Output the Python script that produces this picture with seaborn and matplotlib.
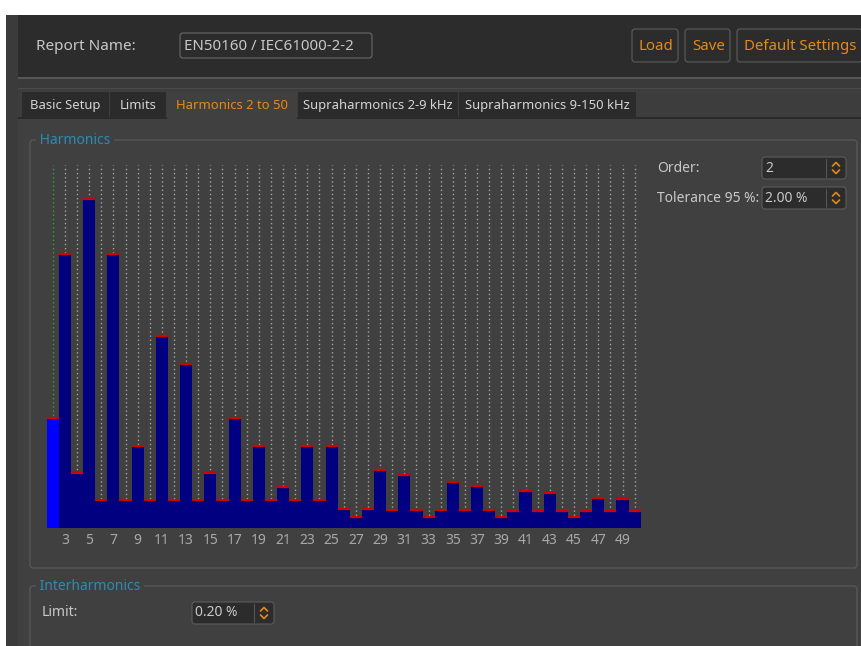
import matplotlib
matplotlib.use('Agg')
import matplotlib.pyplot as plt
from matplotlib.patches import Rectangle, FancyBboxPatch
import seaborn as sns
import pandas as pd

# harmonic orders 2..50 and their limits in % (EN50160 / IEC61000-2-2)
orders = list(range(2, 51))
limits = [2.0, 5.0, 1.0, 6.0, 0.5, 5.0, 0.5, 1.5, 0.5, 3.5,
          0.5, 3.0, 0.5, 1.0, 0.5, 2.0, 0.5, 1.5, 0.5, 0.75,
          0.5, 1.5, 0.5, 1.5, 0.35, 0.2, 0.34, 1.06, 0.33, 0.97,
          0.33, 0.2, 0.32, 0.83, 0.32, 0.77, 0.32, 0.2, 0.31, 0.67,
          0.31, 0.63, 0.31, 0.2, 0.30, 0.55, 0.30, 0.52, 0.30]
tick_orders = list(range(3, 51, 2))
selected_order = 2

df = pd.DataFrame({'order': orders, 'limit': limits})

sns.set_theme(style='dark')
plt.rcParams['font.family'] = ['Noto Sans', 'DejaVu Sans']

fig = plt.figure(figsize=(8.62, 6.46), dpi=100)
fig.patch.set_facecolor('white')

# ---- window chrome, drawn in pixel coordinates ----
bg = fig.add_axes([0, 0, 1, 1])
bg.set_xlim(0, 862)
bg.set_ylim(646, 0)
bg.axis('off')
bg.set_zorder(0)


def rect(x, y, w, h, fc, ec='none', lw=0, rounded=False):
    if rounded:
        p = FancyBboxPatch((x, y), w, h, boxstyle='round,pad=0,rounding_size=3',
                           fc=fc, ec=ec, lw=lw)
    else:
        p = Rectangle((x, y), w, h, fc=fc, ec=ec, lw=lw)
    bg.add_patch(p)


TXT = '#c8c8c8'
ORANGE = '#e58a17'
BORDER = '#5c5c5c'
TEAL = '#2a8cb6'

rect(6, 15, 856, 631, '#3b3b3b')          # outer frame
rect(18, 15, 844, 63, '#2c2c2c')          # header
rect(18, 77, 844, 2, '#565656')           # separator
rect(18, 79, 844, 13, '#3a3a3a')
rect(18, 88, 844, 1, '#4a4a4a')
rect(18, 89, 844, 29, '#3d3d3d')          # tab bar
rect(18, 118, 844, 528, '#404040')        # content panel
rect(18, 117, 844, 1.5, '#2a2a2a')

# header
bg.text(36, 46, 'Report Name:', color=TXT, fontsize=11, va='center')
rect(180, 33, 192, 25, '#2c2c2c', ec='#6a6a6a', lw=0.8, rounded=True)
bg.text(184, 46, 'EN50160 / IEC61000-2-2', color=TXT, fontsize=10.8, va='center')
for x, w, label in [(632, 46, 'Load'), (685, 45, 'Save'), (737, 125, 'Default Settings')]:
    rect(x, 29, w, 33, '#2c2c2c', ec=BORDER, lw=0.8, rounded=True)
    bg.text(x + w / 2 + 1, 46, label, color=ORANGE, fontsize=10.8, va='center', ha='center')

# tabs
tabs = [(22, 87, 'Basic Setup'), (110, 56, 'Limits'), (167, 130, 'Harmonics 2 to 50'),
        (298, 160, 'Supraharmonics 2-9 kHz'), (459, 177, 'Supraharmonics 9-150 kHz')]
for x, w, label in tabs:
    active = label.startswith('Harmonics')
    rect(x, 92, w, 27, '#404040' if active else '#2b2b2b')
    bg.text(x + w / 2, 105.5, label, color=ORANGE if active else '#d4d4d4',
            fontsize=9.4, va='center', ha='center')

# group boxes
rect(30, 140, 827, 428, 'none', ec=BORDER, lw=0.8, rounded=True)
rect(30, 586, 827, 80, 'none', ec=BORDER, lw=0.8, rounded=True)
bg.text(36, 141, ' Harmonics ', color=TEAL, fontsize=10, va='center',
        bbox=dict(fc='#404040', ec='none', pad=0))
bg.text(36, 586, ' Interharmonics ', color=TEAL, fontsize=10, va='center',
        bbox=dict(fc='#404040', ec='none', pad=0))


def spinbox(x, y, w, value):
    rect(x, y, w, 22, '#2c2c2c', ec=BORDER, lw=0.8, rounded=True)
    bg.plot([x + w - 20, x + w - 20], [y + 2, y + 20], color='#555555', lw=0.8)
    cx = x + w - 10
    bg.plot([cx - 3.5, cx, cx + 3.5], [y + 9, y + 5.5, y + 9], color=ORANGE, lw=1.2)
    bg.plot([cx - 3.5, cx, cx + 3.5], [y + 13, y + 16.5, y + 13], color=ORANGE, lw=1.2)
    bg.text(x + 3, y + 11, value, color=TXT, fontsize=10, va='center')


bg.text(657, 168, 'Order:', color=TXT, fontsize=10, va='center')
spinbox(762, 157, 84, '2')
bg.text(657, 198, 'Tolerance 95 %:', color=TXT, fontsize=10, va='center')
spinbox(762, 187, 84, '2.00 %')
bg.text(42, 613, 'Limit:', color=TXT, fontsize=10, va='center')
spinbox(192, 602, 82, '0.20 %')

# ---- harmonic limits bar chart ----
ax = fig.add_axes([0.0542, 0.1831, 0.6891, 0.5615])
ax.set_zorder(1)
ax.patch.set_alpha(0)

ymax = 6.63
grid_colors = ['#33a133' if o == selected_order else '#a6a6a6' for o in orders]
ax.vlines(range(len(orders)), 0, ymax, colors=grid_colors,
          linestyles=(0, (1, 2)), lw=1, zorder=0)

sns.barplot(data=df, x='order', y='limit', width=1.0, color='#000080',
            saturation=1, linewidth=0, ax=ax, zorder=2)
for o, p in zip(orders, ax.patches):
    if o == selected_order:
        p.set_facecolor('#0000ff')
    ax.plot([p.get_x(), p.get_x() + p.get_width()], [p.get_height()] * 2,
            color='#d40000', lw=1.6, solid_capstyle='butt', zorder=3)

ax.set_xlim(-0.5, len(orders) - 0.5)
ax.set_ylim(0, ymax)
ax.set_xticks([orders.index(o) for o in tick_orders])
ax.set_xticklabels([str(o) for o in tick_orders])
ax.tick_params(axis='x', length=0, pad=4, labelsize=10, labelcolor='#a8a8a8')
ax.set_yticks([])
ax.set_xlabel('')
ax.set_ylabel('')
for s in ax.spines.values():
    s.set_visible(False)
ax.grid(False)

fig.savefig('out.png', dpi=100)
